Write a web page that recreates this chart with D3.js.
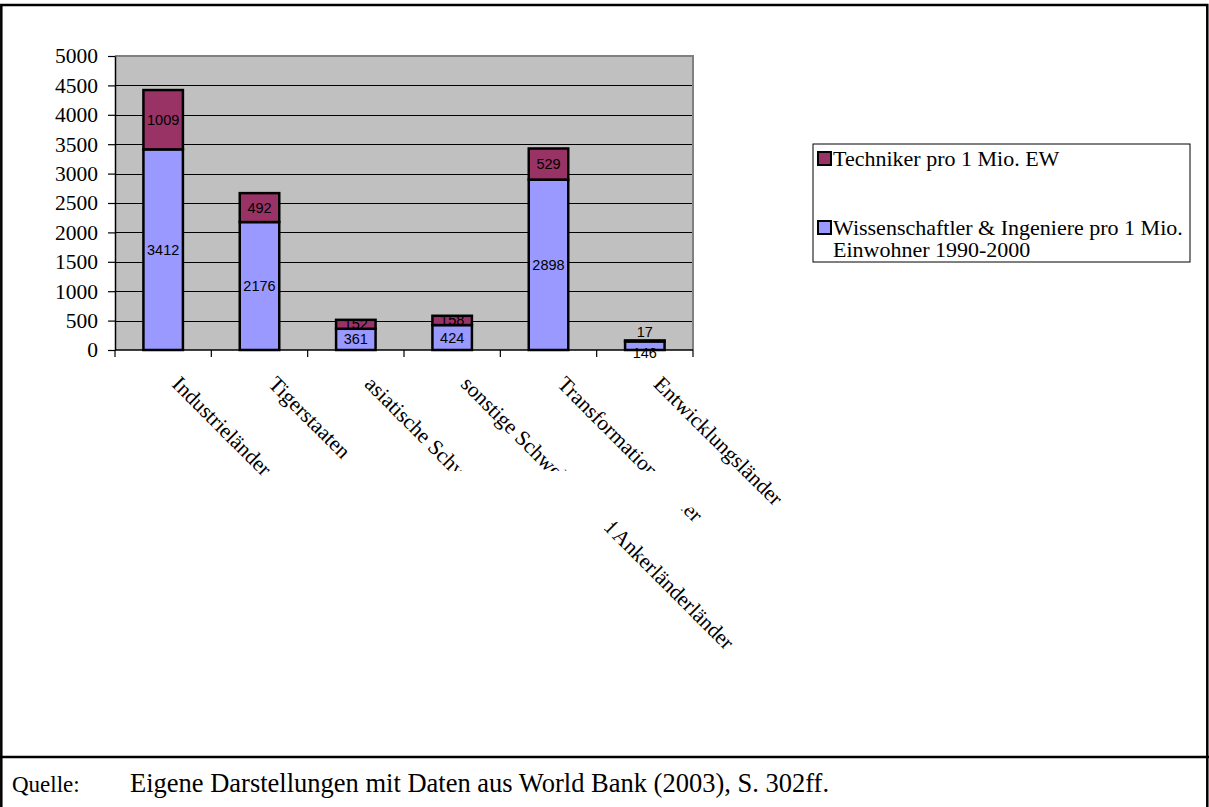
<!DOCTYPE html>
<html>
<head>
<meta charset="utf-8">
<script src="https://cdn.jsdelivr.net/npm/d3@7"></script>
<style>
  html, body { margin: 0; padding: 0; background: #ffffff; }
  svg { display: block; }
</style>
</head>
<body>
<script>
// Kategorien (Ländergruppen)
const categories = [
  "Industrieländer",
  "Tigerstaaten",
  "asiatische Schwellenländer",
  "sonstige Schwellen- und Ankerländerländer",
  "Transformationsländer",
  "Entwicklungsländer"
];
// Wissenschaftler & Ingenieure pro 1 Mio. Einwohner
const scientists = [3412, 2176, 361, 424, 2898, 146];
// Techniker pro 1 Mio. Einwohner
const technicians = [1009, 492, 152, 158, 529, 17];
// Achsenbeschriftung der y-Achse
const yTicks = [0, 500, 1000, 1500, 2000, 2500, 3000, 3500, 4000, 4500, 5000];
// Legendeneinträge (Zeilen je Eintrag)
const legendTechniker = ["Techniker pro 1 Mio. EW"];
const legendWissenschaftler = ["Wissenschaftler & Ingeniere pro 1 Mio.", "Einwohner 1990-2000"];
const sourceLabel = "Quelle:";
const sourceText = "Eigene Darstellungen mit Daten aus World Bank (2003), S. 302ff.";

const W = 1209, H = 807;
const serif = "'Liberation Serif', 'Times New Roman', serif";
const sans = "'Liberation Sans', Arial, sans-serif";
const blue = "#9999FF", wine = "#993366";

const svg = d3.select("body").append("svg")
  .attr("width", W).attr("height", H);

// Rahmen
svg.append("rect")
  .attr("x", 1.3).attr("y", 5).attr("width", 1206).attr("height", 806)
  .attr("fill", "none").attr("stroke", "#000").attr("stroke-width", 2.5);
svg.append("line")
  .attr("x1", 0).attr("x2", W).attr("y1", 757).attr("y2", 757)
  .attr("stroke", "#000").attr("stroke-width", 2.5);

// Skalen
const plotL = 115, plotR = 693, plotT = 56, plotB = 350;
const x = d3.scaleBand().domain(categories).range([plotL, plotR])
  .paddingInner(0.59).paddingOuter(0.295);
const y = d3.scaleLinear().domain([0, 5000]).range([plotB, plotT]);

// Zeichenfläche
svg.append("rect")
  .attr("x", plotL).attr("y", plotT)
  .attr("width", plotR - plotL).attr("height", plotB - plotT)
  .attr("fill", "#C0C0C0");

// Gitternetzlinien
svg.append("g").selectAll("line")
  .data(yTicks.filter(v => v > 0 && v < 5000))
  .join("line")
  .attr("x1", plotL).attr("x2", plotR)
  .attr("y1", d => Math.round(y(d)) + 0.5).attr("y2", d => Math.round(y(d)) + 0.5)
  .attr("stroke", "#000").attr("stroke-width", 1);

// Rahmen der Zeichenfläche (oben, rechts)
svg.append("path")
  .attr("d", `M${plotL},${plotT}H${plotR}V${plotB}`)
  .attr("fill", "none").attr("stroke", "#808080").attr("stroke-width", 2);

// Gestapelte Säulen
const stacked = categories.map((c, i) => ({
  cat: c,
  segs: [
    { key: "w", y0: 0, y1: scientists[i], v: scientists[i], color: blue },
    { key: "t", y0: scientists[i], y1: scientists[i] + technicians[i], v: technicians[i], color: wine }
  ]
}));

const barG = svg.append("g");
stacked.forEach(d => {
  barG.selectAll(null).data(d.segs).join("rect")
    .attr("x", x(d.cat)).attr("width", x.bandwidth())
    .attr("y", s => y(s.y1)).attr("height", s => y(s.y0) - y(s.y1))
    .attr("fill", s => s.color)
    .attr("stroke", "#000").attr("stroke-width", 2.5);
});

// Datenbeschriftungen
const labelG = svg.append("g")
  .attr("font-family", sans).attr("font-size", 14.5).attr("fill", "#000")
  .attr("text-anchor", "middle");
stacked.forEach(d => {
  const cx = x(d.cat) + x.bandwidth() / 2;
  const total = d.segs[1].y1;
  const small = (y(0) - y(total)) < 16;
  d.segs.forEach(s => {
    let cy = (y(s.y0) + y(s.y1)) / 2;
    if (small) cy = s.key === "t" ? y(total) - 8.5 : y(0) + 3;
    labelG.append("text")
      .attr("x", cx).attr("y", cy).attr("dy", "0.35em")
      .text(s.v);
  });
});

// y-Achse
const yAxis = svg.append("g")
  .attr("transform", `translate(${plotL},0)`)
  .call(d3.axisLeft(y).tickValues(yTicks).tickFormat(d3.format("d"))
    .tickSize(7).tickSizeOuter(0).tickPadding(10));
yAxis.select(".domain").attr("stroke", "#000").attr("stroke-width", 1.5);
yAxis.selectAll(".tick line").attr("stroke", "#000").attr("stroke-width", 1.2);
yAxis.selectAll(".tick text")
  .attr("font-family", serif).attr("font-size", 21.5).attr("fill", "#000");

// x-Achse mit Teilstrichen an den Kategoriegrenzen
svg.append("line")
  .attr("x1", plotL).attr("x2", plotR).attr("y1", plotB).attr("y2", plotB)
  .attr("stroke", "#000").attr("stroke-width", 1.5);
svg.append("g").selectAll("line")
  .data(d3.range(categories.length + 1))
  .join("line")
  .attr("x1", i => plotL + i * x.step()).attr("x2", i => plotL + i * x.step())
  .attr("y1", plotB).attr("y2", plotB + 7)
  .attr("stroke", "#000").attr("stroke-width", 1.2);

// Kategorienbeschriftung (45° gedreht, teilweise verdeckt)
const defs = svg.append("defs");
defs.append("clipPath").attr("id", "catClip")
  .append("path")
  .attr("clip-rule", "evenodd")
  .attr("d", `M0,0H${W}V${H}H0Z M330,471 H705 V505 L612,523 L560,565 H330 Z`);

svg.append("g")
  .attr("clip-path", "url(#catClip)")
  .selectAll("text")
  .data(categories)
  .join("text")
  .attr("transform", c => `translate(${x(c) + x.bandwidth() / 2 + 18},375) rotate(45)`)
  .attr("dy", "0.68em")
  .attr("font-family", serif).attr("font-size", 21.5).attr("fill", "#000")
  .text(c => c);

// Legende
const leg = svg.append("g");
leg.append("rect")
  .attr("x", 813).attr("y", 144).attr("width", 377).attr("height", 118)
  .attr("fill", "#fff").attr("stroke", "#000").attr("stroke-width", 1);
const legendItems = [
  { lines: legendTechniker, color: wine, y: 160 },
  { lines: legendWissenschaftler, color: blue, y: 229 }
];
legendItems.forEach(it => {
  leg.append("rect")
    .attr("x", 818).attr("y", it.y - 8).attr("width", 13).attr("height", 13)
    .attr("fill", it.color).attr("stroke", "#000").attr("stroke-width", 2);
  it.lines.forEach((ln, k) => {
    leg.append("text")
      .attr("font-family", serif).attr("font-size", 22).attr("fill", "#000")
      .attr("x", 833).attr("y", it.y + 6 + k * 22).text(ln);
  });
});

// Quellenangabe
svg.append("text")
  .attr("x", 12).attr("y", 792)
  .attr("font-family", serif).attr("font-size", 23).attr("fill", "#000")
  .text(sourceLabel);
svg.append("text")
  .attr("x", 130).attr("y", 792)
  .attr("font-family", serif).attr("font-size", 26.5).attr("fill", "#000")
  .text(sourceText);
</script>
</body>
</html>
